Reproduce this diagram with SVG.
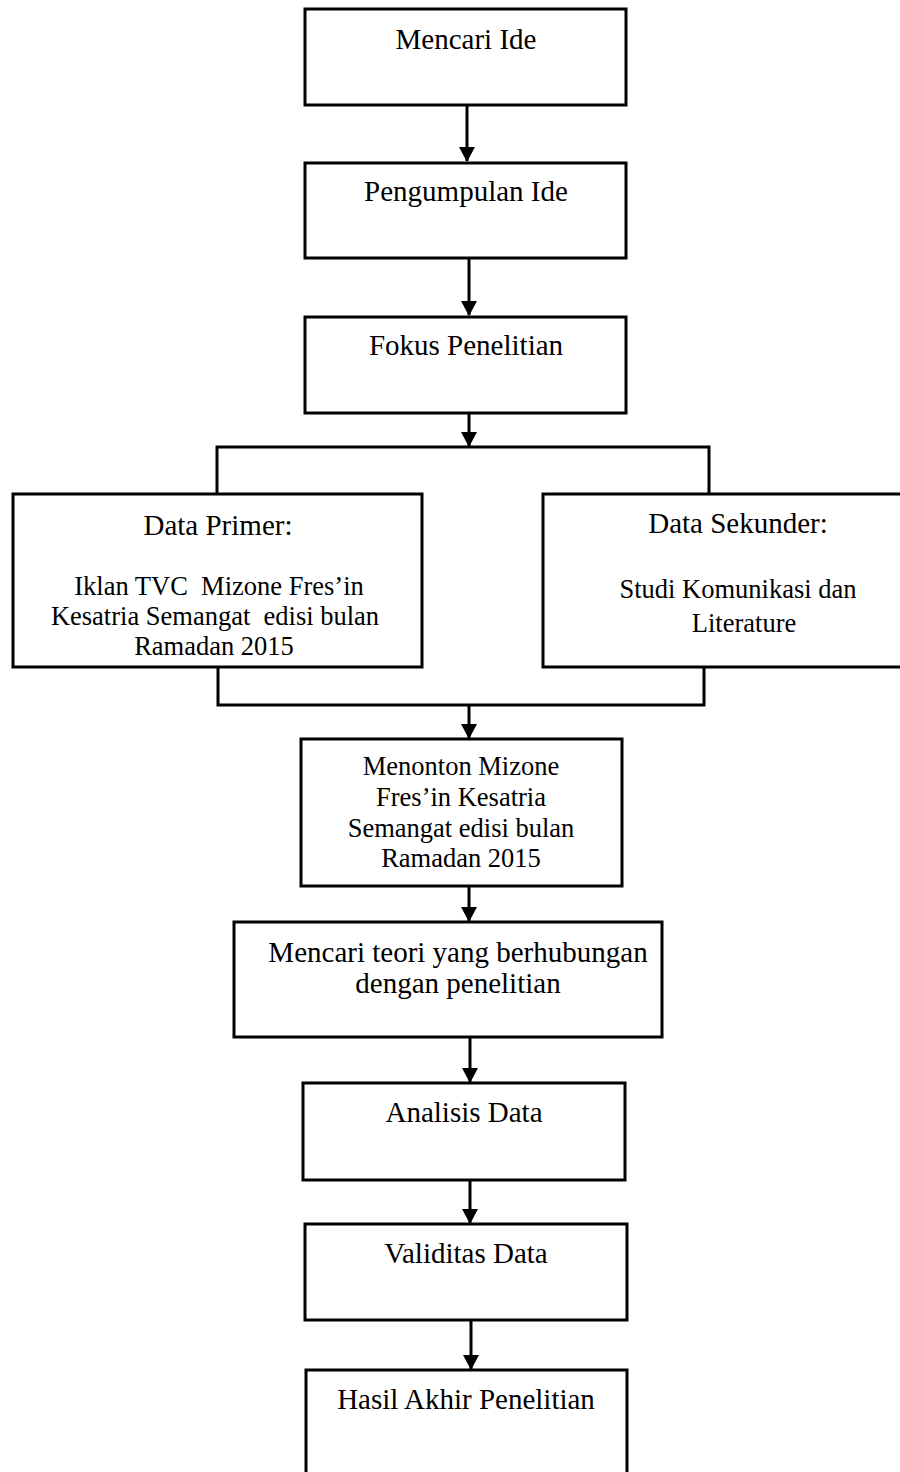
<svg xmlns="http://www.w3.org/2000/svg" width="900" height="1472" viewBox="0 0 900 1472">
<style>
.box{fill:#fff;stroke:#000;stroke-width:3}
.t{font-family:"Liberation Serif","Times New Roman",serif;font-size:29px;fill:#000;text-anchor:middle}
.s{font-family:"Liberation Serif","Times New Roman",serif;font-size:26.5px;fill:#000;text-anchor:middle}
.c{fill:none;stroke:#000;stroke-width:3}
</style>
<defs>
<marker id="ah" markerUnits="userSpaceOnUse" markerWidth="15" markerHeight="16" refX="14" refY="8" orient="auto" viewBox="0 0 15 16">
<path d="M0,0 L15,8 L0,16 Z" fill="#000"/>
</marker>
</defs>
<rect width="900" height="1472" fill="#fff"/>
<g id="connectors">
<line class="c" x1="467" y1="105" x2="467" y2="161" marker-end="url(#ah)"/>
<line class="c" x1="469" y1="258" x2="469" y2="315" marker-end="url(#ah)"/>
<line class="c" x1="469" y1="413" x2="469" y2="446" marker-end="url(#ah)"/>
<polyline class="c" points="217,494 217,447 709,447 709,494"/>
<polyline class="c" points="218,667 218,705 704,705 704,667"/>
<line class="c" x1="469" y1="705" x2="469" y2="738" marker-end="url(#ah)"/>
<line class="c" x1="469" y1="886" x2="469" y2="921" marker-end="url(#ah)"/>
<line class="c" x1="470" y1="1037" x2="470" y2="1082" marker-end="url(#ah)"/>
<line class="c" x1="470" y1="1180" x2="470" y2="1223" marker-end="url(#ah)"/>
<line class="c" x1="471" y1="1320" x2="471" y2="1369" marker-end="url(#ah)"/>
</g>
<g id="n1"><rect class="box" x="305" y="9" width="321" height="96"/><text class="t" x="466" y="49">Mencari Ide</text></g>
<g id="n2"><rect class="box" x="305" y="163" width="321" height="95"/><text class="t" x="466" y="201">Pengumpulan Ide</text></g>
<g id="n3"><rect class="box" x="305" y="317" width="321" height="96"/><text class="t" x="466" y="355">Fokus Penelitian</text></g>
<g id="n4"><rect class="box" x="13" y="494" width="409" height="173"/>
<text class="t" x="218" y="535">Data Primer:</text>
<text class="s" x="219" y="595" xml:space="preserve">Iklan TVC  Mizone Fres’in</text>
<text class="s" x="215" y="625" xml:space="preserve">Kesatria Semangat  edisi bulan</text>
<text class="s" x="214" y="655">Ramadan 2015</text></g>
<g id="n5"><rect class="box" x="543" y="494" width="390" height="173"/>
<text class="t" x="738" y="533">Data Sekunder:</text>
<text class="s" x="738" y="598">Studi Komunikasi dan</text>
<text class="s" x="744" y="632">Literature</text></g>
<g id="n6"><rect class="box" x="301" y="739" width="321" height="147"/>
<text class="s" x="461" y="775">Menonton Mizone</text>
<text class="s" x="461" y="806">Fres’in Kesatria</text>
<text class="s" x="461" y="837">Semangat edisi bulan</text>
<text class="s" x="461" y="867">Ramadan 2015</text></g>
<g id="n7"><rect class="box" x="234" y="922" width="428" height="115"/>
<text class="t" x="458" y="962">Mencari teori yang berhubungan</text>
<text class="t" x="458" y="993">dengan penelitian</text></g>
<g id="n8"><rect class="box" x="303" y="1083" width="322" height="97"/><text class="t" x="464" y="1122">Analisis Data</text></g>
<g id="n9"><rect class="box" x="305" y="1224" width="322" height="96"/><text class="t" x="466" y="1263">Validitas Data</text></g>
<g id="n10"><rect class="box" x="306" y="1370" width="321" height="120"/><text class="t" x="466" y="1409">Hasil Akhir Penelitian</text></g>
</svg>
